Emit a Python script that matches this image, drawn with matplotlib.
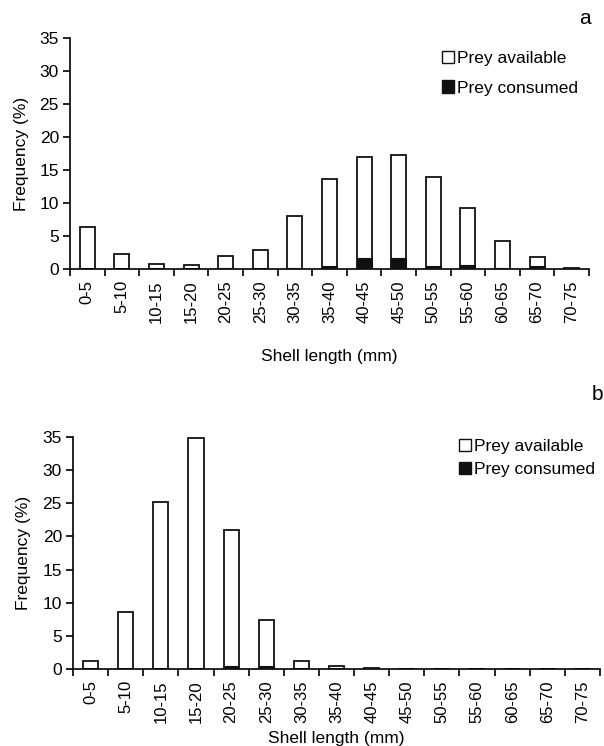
import numpy as np
import matplotlib
matplotlib.use("Agg")
import matplotlib.pyplot as plt
from matplotlib.patches import Patch

plt.rcParams['font.family'] = ['Liberation Sans', 'DejaVu Sans']

classes = ['0-5', '5-10', '10-15', '15-20', '20-25', '25-30', '30-35', '35-40',
           '40-45', '45-50', '50-55', '55-60', '60-65', '65-70', '70-75']

# panel a
avail_a = [6.4, 2.3, 0.8, 0.6, 1.9, 2.9, 8.0, 13.6, 16.9, 17.3, 14.0, 9.2, 4.3, 1.8, 0.2]
cons_a = [0.0, 0.0, 0.0, 0.0, 0.2, 0.0, 0.2, 0.4, 1.7, 1.7, 0.4, 0.6, 0.2, 0.4, 0.2]

# panel b
avail_b = [1.2, 8.6, 25.2, 34.8, 20.9, 7.4, 1.2, 0.4, 0.1, 0, 0, 0, 0, 0, 0]
cons_b = [0.0, 0.0, 0.0, 0.0, 0.4, 0.4, 0.0, 0.0, 0.2, 0, 0, 0, 0, 0, 0]

yticks = [0, 5, 10, 15, 20, 25, 30, 35]

W, H = 604, 746


def px_axes(left, right, top, bottom):
    return fig.add_axes([left / W, 1 - bottom / H, (right - left) / W, (bottom - top) / H])


def draw_panel(ax, avail, cons, letter, letter_xy, leg_xy, leg_gap, ylab_x, xlab_y):
    x = np.arange(len(classes))
    w = 0.43
    ax.bar(x, avail, width=w, color='white', edgecolor='#111111', linewidth=1.3, zorder=2)
    ax.bar(x, cons, width=w, color='#111111', edgecolor='#111111', linewidth=0.8, zorder=3)
    ax.set_xlim(-0.5, len(classes) - 0.5)
    ax.set_ylim(0, 35)
    ax.set_yticks(yticks)
    ax.set_xticks(x)
    ax.set_xticklabels(classes, rotation=90, fontsize=12)
    ax.set_xticks(np.arange(len(classes) + 1) - 0.5, minor=True)
    ax.tick_params(axis='x', which='major', length=0, pad=8)
    ax.tick_params(axis='x', which='minor', length=5, width=1.2, direction='out')
    ax.tick_params(axis='y', length=5, width=1.2, labelsize=12.5, pad=3)
    for s in ['top', 'right']:
        ax.spines[s].set_visible(False)
    for s in ['left', 'bottom']:
        ax.spines[s].set_linewidth(1.2)
    ax.set_ylabel('Frequency (%)', fontsize=12.5, va='center', ha='center')
    ax.set_xlabel('Shell length (mm)', fontsize=12.5, va='center', ha='center')
    ax.yaxis.set_label_coords(ylab_x, 0.5)
    ax.xaxis.set_label_coords(0.5, xlab_y)
    fig.text(letter_xy[0] / W, 1 - letter_xy[1] / H, letter, fontsize=15,
             ha='center', va='center')
    handles = [Patch(facecolor='white', edgecolor='#111111', linewidth=1.0),
               Patch(facecolor='#111111', edgecolor='#111111', linewidth=1.0)]
    ax.legend(handles, ['Prey available', 'Prey consumed'], loc='upper left',
              bbox_to_anchor=(leg_xy[0] / W, 1 - leg_xy[1] / H),
              bbox_transform=fig.transFigure, frameon=False,
              fontsize=12.5, handlelength=0.7, handleheight=0.7, handletextpad=0.15,
              labelspacing=leg_gap, borderpad=0, borderaxespad=0)


fig = plt.figure(figsize=(W / 100, H / 100), dpi=100)
ax1 = px_axes(70, 589, 38, 269)
ax2 = px_axes(73, 600, 437, 669)

draw_panel(ax1, avail_a, cons_a, 'a', (585, 18), (442, 51), 0.82,
           -(70 - 22) / 519, -(357 - 269) / 231)
draw_panel(ax2, avail_b, cons_b, 'b', (597, 395), (459, 439), 0.45,
           -(73 - 24) / 527, -(738 - 669) / 232)

fig.savefig('out.png', dpi=100, facecolor='white')
